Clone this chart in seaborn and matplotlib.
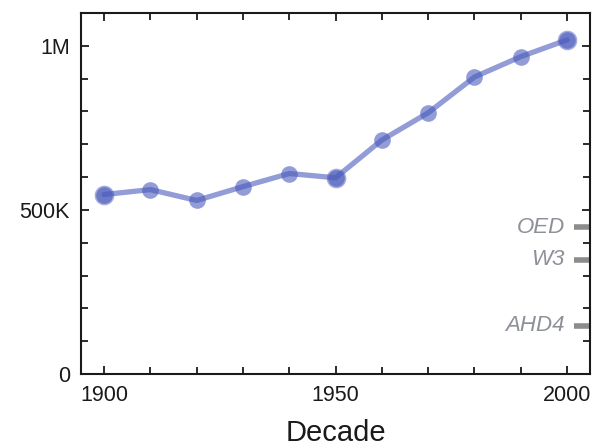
import matplotlib
matplotlib.use("Agg")
import matplotlib.pyplot as plt
import seaborn as sns
import pandas as pd
from matplotlib.ticker import MultipleLocator, FuncFormatter

# lexicon size per decade
decades = [1900, 1910, 1920, 1930, 1940, 1950, 1960, 1970, 1980, 1990, 2000]
words = [547000, 562000, 529000, 571000, 611000, 598000, 713000, 796000, 905000, 967000, 1018000]

# dictionary sizes marked on the right edge
dict_names = ["OED", "W3", "AHD4"]
dict_sizes = [447000, 349000, 148000]

highlight = [1900, 1950, 2000]

sns.set_theme(style="ticks")
plt.rcParams["font.family"] = ["Liberation Sans", "DejaVu Sans"]

df = pd.DataFrame({"Decade": decades, "Words": words})
line_color = "#4a5abc"

fig = plt.figure(figsize=(5.95, 4.47), dpi=100)
ax = fig.add_axes([0.136, 0.163, 0.856, 0.808])

sns.lineplot(data=df, x="Decade", y="Words", ax=ax, color=line_color,
             linewidth=3.8, alpha=0.6, marker="o", markersize=12,
             markeredgewidth=0)
big = df[df["Decade"].isin(highlight)]
sns.scatterplot(data=big, x="Decade", y="Words", ax=ax, color=line_color,
                s=200, alpha=0.5, linewidth=0, zorder=3)

ax.set_xlim(1895, 2005)
ax.set_ylim(0, 1100000)

for name, size in zip(dict_names, dict_sizes):
    ax.plot([2001.5, 2005], [size, size], color="#8c8c8c", linewidth=4,
            solid_capstyle="butt", clip_on=False)
    ax.text(1999.5, size, name, color="#8d9099", fontsize=16, style="italic",
            ha="right", va="center")

ax.xaxis.set_major_locator(MultipleLocator(50))
ax.xaxis.set_minor_locator(MultipleLocator(10))
ax.yaxis.set_major_locator(MultipleLocator(500000))
ax.yaxis.set_minor_locator(MultipleLocator(100000))
ax.yaxis.set_major_formatter(FuncFormatter(
    lambda v, p: "0" if v == 0 else ("1M" if v == 1000000 else f"{int(v / 1000)}K")))

ax.tick_params(which="both", direction="in", top=True, right=True,
               labelsize=15.5, colors="#1a1a1a", width=1.3)
ax.tick_params(which="major", length=6, pad=8)
ax.tick_params(which="minor", length=5)
for s in ax.spines.values():
    s.set_linewidth(1.5)
    s.set_color("#1a1a1a")

ax.set_xlabel("Decade", fontsize=21, color="#1a1a1a", labelpad=9)
ax.set_ylabel("")

plt.savefig("out.png", dpi=100)
plt.close()
